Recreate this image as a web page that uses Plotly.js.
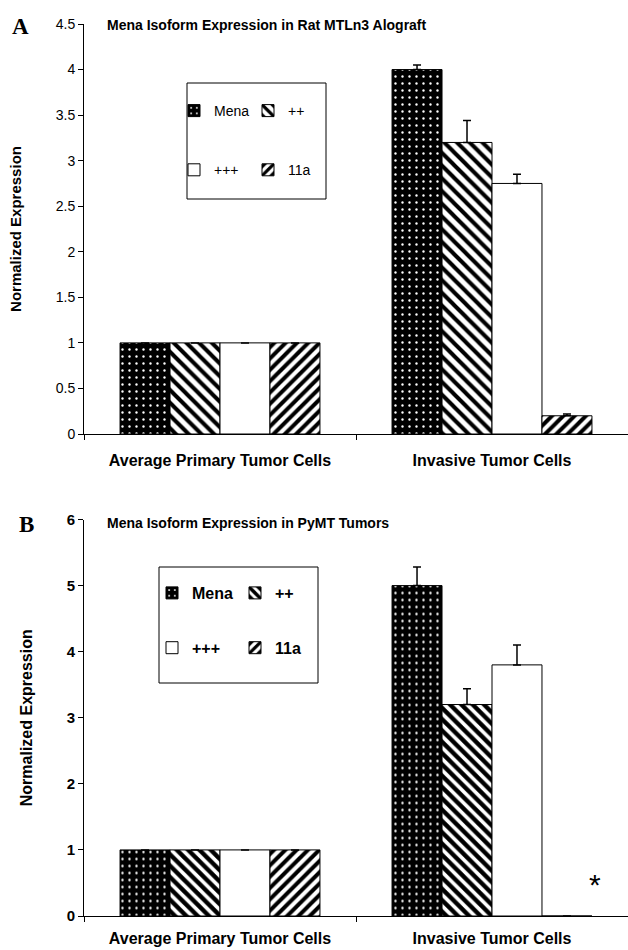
<!DOCTYPE html>
<html><head><meta charset="utf-8">
<script src="https://cdn.plot.ly/plotly-3.0.1.min.js"></script>
<style>html,body{margin:0;padding:0;background:#fff}</style>
</head><body>
<div id="chart" style="width:628px;height:950px"></div>
<script>
// ---------- data ----------
const categories = ["Average Primary Tumor Cells", "Invasive Tumor Cells"];
const isoforms = ["Mena", "++", "+++", "11a"];

// Panel A: Rat MTLn3 allograft
const mtlnMena = [1, 4.0];
const mtlnPlus2 = [1, 3.2];
const mtlnPlus3 = [1, 2.75];
const mtln11a = [1, 0.2];
const mtlnMenaErr = [NaN, 0.05];
const mtlnPlus2Err = [NaN, 0.24];
const mtlnPlus3Err = [NaN, 0.1];
const mtln11aErr = [NaN, 0.02];

// Panel B: PyMT tumors
const pymtMena = [1, 5.0];
const pymtPlus2 = [1, 3.2];
const pymtPlus3 = [1, 3.8];
const pymt11a = [1, 0];
const pymtMenaErr = [NaN, 0.28];
const pymtPlus2Err = [NaN, 0.24];
const pymtPlus3Err = [NaN, 0.3];
const pymt11aErr = [NaN, NaN];

const yTicksA = [0, 0.5, 1, 1.5, 2, 2.5, 3, 3.5, 4, 4.5];
const yTicksB = [0, 1, 2, 3, 4, 5, 6];

// ---------- geometry helpers ----------
const W = 628, H = 950, ML = 84, MR = 0, MT = 24, MB = 34;
const PW = W - ML - MR, PH = H - MT - MB;
const px = v => (v - ML) / PW;
const py = v => (H - MB - v) / PH;

const FONT = "Liberation Sans, Arial, sans-serif";
const SERIF = "Liberation Serif, Times New Roman, serif";

const styleA = {
  "Mena": {shape: ".", bgcolor: "#000", fgcolor: "#fff", size: 7, solidity: 0.09},
  "++":   {shape: "\\", bgcolor: "#fff", fgcolor: "#000", size: 9, solidity: 0.45},
  "+++":  {shape: "", bgcolor: "#fff", fgcolor: "#000", size: 8, solidity: 0.3},
  "11a":  {shape: "/", bgcolor: "#fff", fgcolor: "#000", size: 8, solidity: 0.5}
};
const styleB = {
  "Mena": {shape: ".", bgcolor: "#000", fgcolor: "#fff", size: 7, solidity: 0.09},
  "++":   {shape: "\\", bgcolor: "#fff", fgcolor: "#000", size: 8, solidity: 0.55},
  "+++":  {shape: "", bgcolor: "#fff", fgcolor: "#000", size: 8, solidity: 0.3},
  "11a":  {shape: "/", bgcolor: "#fff", fgcolor: "#000", size: 8, solidity: 0.5}
};

function barTrace(name, vals, errs, xa, ya, leg, grp, st) {
  return {
    type: "bar", name: name, x: categories, y: vals,
    xaxis: xa, yaxis: ya, legend: leg, legendgroup: grp,
    marker: {color: st.bgcolor, line: {color: "#000", width: 1},
             pattern: {shape: st.shape, bgcolor: st.bgcolor, fgcolor: st.fgcolor,
                       size: st.size, solidity: st.solidity, fillmode: "replace"}},
    error_y: {type: "data", symmetric: false, array: errs, arrayminus: errs.map(() => 0),
              color: "#000", thickness: 1.5, width: 4, visible: true},
    hoverinfo: "skip"
  };
}

const dataA = [mtlnMena, mtlnPlus2, mtlnPlus3, mtln11a];
const errA = [mtlnMenaErr, mtlnPlus2Err, mtlnPlus3Err, mtln11aErr];
const dataB = [pymtMena, pymtPlus2, pymtPlus3, pymt11a];
const errB = [pymtMenaErr, pymtPlus2Err, pymtPlus3Err, pymt11aErr];
// legends are columns: col 1 = Mena, +++ ; col 2 = ++, 11a
const legA = ["legend", "legend2", "legend", "legend2"];
const legB = ["legend3", "legend4", "legend3", "legend4"];

const traces = [];
isoforms.forEach((iso, i) => traces.push(barTrace(iso, dataA[i], errA[i], "x", "y", legA[i], "a" + i, styleA[iso])));
isoforms.forEach((iso, i) => traces.push(barTrace(iso, dataB[i], errB[i], "x2", "y2", legB[i], "b" + i, styleB[iso])));

const domA = [py(434), 1];
const domB = [0, py(519.5)];

function xax(anchor, fsize, standoff) {
  return {
    domain: [0, 1], anchor: anchor, type: "category", range: [-0.5, 1.5],
    showline: true, linecolor: "#000", linewidth: 1, mirror: false,
    ticks: "outside", tickson: "boundaries", ticklen: 5, tickcolor: "#000", tickwidth: 1,
    ticklabelstandoff: standoff,
    tickfont: {family: FONT, size: fsize, color: "#000", weight: "bold"},
    showgrid: false, zeroline: false, fixedrange: true
  };
}
function yax(anchor, dom, range, tickvals, tweight, tsize, titleSize) {
  return {
    domain: dom, anchor: anchor, range: range, tickmode: "array", tickvals: tickvals,
    showline: true, linecolor: "#000", linewidth: 1,
    ticks: "outside", ticklen: 5, tickcolor: "#000", tickwidth: 1,
    tickfont: {family: FONT, size: tsize, color: "#000", weight: tweight},
    showgrid: false, zeroline: false, fixedrange: true,
    title: {text: "Normalized Expression", standoff: 30,
            font: {family: FONT, size: titleSize, color: "#000", weight: "bold"}}
  };
}

function legendCol(xLeftPx, yTopPx, size, weight, gap) {
  return {
    x: px(xLeftPx), y: py(yTopPx), xanchor: "left", yanchor: "top",
    xref: "paper", yref: "paper",
    orientation: "v", traceorder: "grouped", tracegroupgap: gap,
    bgcolor: "rgba(0,0,0,0)", borderwidth: 0, itemwidth: 30,
    font: {family: FONT, size: size, color: "#000", weight: weight}
  };
}

const layout = {
  width: W, height: H,
  margin: {l: ML, r: MR, t: MT, b: MB, pad: 0},
  paper_bgcolor: "#fff", plot_bgcolor: "#fff",
  barmode: "group", bargap: 0.265, bargroupgap: 0,
  showlegend: true,
  xaxis: xax("y", 16, 12),
  yaxis: yax("x", domA, [0, 4.5], yTicksA, "normal", 14, 15),
  xaxis2: xax("y2", 16, 8),
  yaxis2: yax("x2", domB, [0, 6], yTicksB, "bold", 15, 16),
  legend: legendCol(174, 95, 14, "normal", 38),
  legend2: legendCol(248, 95, 14, "normal", 38),
  legend3: legendCol(152, 576, 16, "bold", 31),
  legend4: legendCol(235, 576, 16, "bold", 31),
  shapes: [
    {type: "rect", xref: "paper", yref: "paper", x0: px(187), x1: px(326), y0: py(199), y1: py(83),
     line: {color: "#000", width: 1}, fillcolor: "rgba(0,0,0,0)", layer: "above"},
    {type: "rect", xref: "paper", yref: "paper", x0: px(159), x1: px(318), y0: py(683), y1: py(567),
     line: {color: "#000", width: 1}, fillcolor: "rgba(0,0,0,0)", layer: "above"}
  ],
  annotations: [
    {text: "Mena Isoform Expression in Rat MTLn3 Alograft", xref: "paper", yref: "paper",
     x: px(105), y: py(25), xanchor: "left", yanchor: "middle", showarrow: false,
     font: {family: FONT, size: 14, color: "#000", weight: "bold"}},
    {text: "Mena Isoform Expression in PyMT Tumors", xref: "paper", yref: "paper",
     x: px(105), y: py(523), xanchor: "left", yanchor: "middle", showarrow: false,
     font: {family: FONT, size: 14, color: "#000", weight: "bold"}},
    {text: "A", xref: "paper", yref: "paper", x: px(20), y: py(27), xanchor: "center", yanchor: "middle",
     showarrow: false, font: {family: SERIF, size: 23, color: "#000", weight: "bold"}},
    {text: "B", xref: "paper", yref: "paper", x: px(26), y: py(524), xanchor: "center", yanchor: "middle",
     showarrow: false, font: {family: SERIF, size: 23, color: "#000", weight: "bold"}},
    {text: "*", xref: "paper", yref: "paper", x: px(595), y: py(884), xanchor: "center", yanchor: "middle",
     showarrow: false, font: {family: FONT, size: 30, color: "#000"}}
  ]
};

Plotly.newPlot("chart", traces, layout, {staticPlot: true, displayModeBar: false});
</script>
</body></html>
